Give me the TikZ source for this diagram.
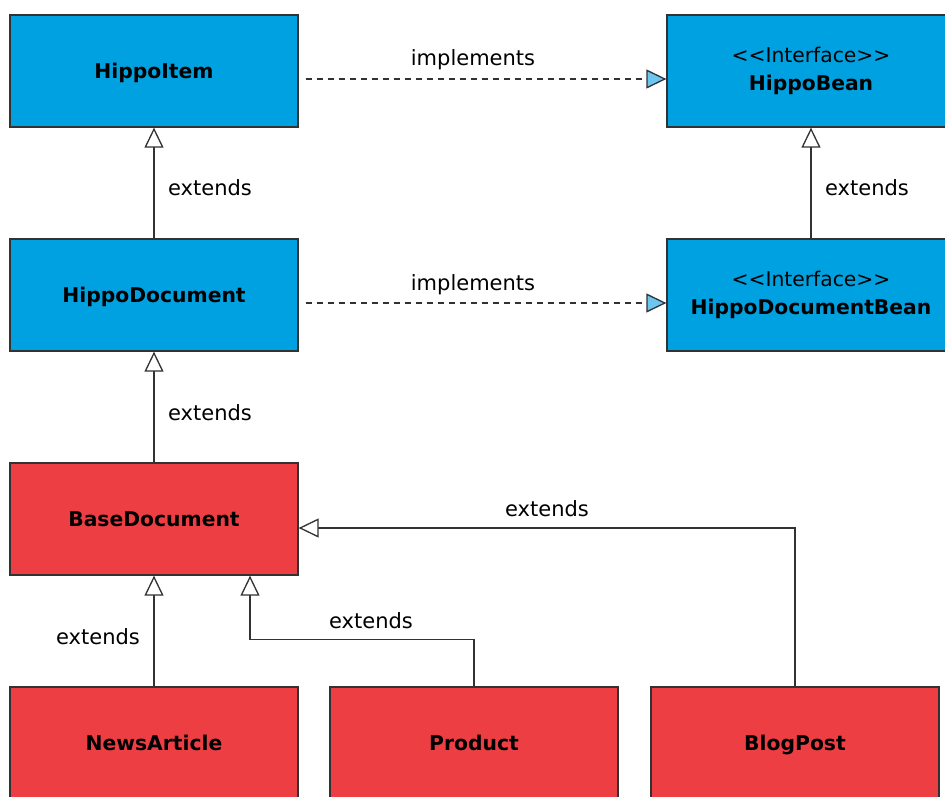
\documentclass[tikz,border=0pt]{standalone}
\usepackage{fontspec}
\setmainfont{DejaVu Sans}
\usetikzlibrary{arrows.meta,calc}
\definecolor{umlblue}{RGB}{0,161,224}
\definecolor{umlred}{RGB}{237,62,67}
\definecolor{tipblue}{RGB}{108,198,240}
\definecolor{edgegray}{RGB}{50,50,50}
\begin{document}
\begin{tikzpicture}[x=1pt,y=-1pt,
  every node/.style={font=\fontsize{21}{28}\selectfont},
  cls/.style={draw=edgegray,line width=1.3pt,minimum width=288pt,minimum height=112pt,
    inner sep=0pt,align=center,font=\fontsize{20.3}{28}\selectfont\bfseries},
  oneline/.style={text height=14.8pt,text depth=0pt},
  bluecls/.style={cls,fill=umlblue},
  redcls/.style={cls,fill=umlred,oneline},
  ext/.style={draw=edgegray,line width=1.4pt,-{Triangle[open,fill=white,length=20pt,width=19pt,line width=1.3pt]}},
  impl/.style={draw=edgegray,line width=1.4pt,dash pattern=on 6pt off 5pt,-{Triangle[fill=tipblue,length=20pt,width=19pt,line width=1.3pt]}},
  lbl/.style={inner sep=0pt}]
\clip (0,0) rectangle (945,796);
\fill[white] (0,0) rectangle (945,796);
\node[bluecls,oneline] (hi) at (154,71) {HippoItem};
\node[bluecls] (hb) at (811,71) {{\mdseries <{}<Interface>{}>}\\HippoBean};
\node[bluecls,oneline] (hd) at (154,295) {HippoDocument};
\node[bluecls] (hdb) at (811,295) {{\mdseries <{}<Interface>{}>}\\HippoDocumentBean};
\node[redcls] (bd) at (154,519) {BaseDocument};
\node[redcls] (na) at (154,743) {NewsArticle};
\node[redcls] (pr) at (474,743) {Product};
\node[redcls] (bp) at (795,743) {BlogPost};
% implements
\draw[impl] ($(hi.east)+(7,8)$) -- ($(hb.west)+(0,8)$);
\draw[impl] ($(hd.east)+(7,8)$) -- ($(hdb.west)+(0,8)$);
\node[lbl] (l1) at (473,60) {implements};
\node[lbl] (l2) at (473,285) {implements};
% extends
\draw[ext] (hd) -- (hi);
\draw[ext] (hdb) -- (hb);
\draw[ext] (bd) -- (hd);
\draw[ext] (na) -- (bd);
\draw[ext] (pr.north) |- ($(bd.south)+(96,64)$) -- ($(bd.south)+(96,0)$);
\draw[ext] (bp.north) |- ([yshift=-9pt]bd.east);
\node[lbl] (l3) at (210,188) {extends};
\node[lbl] (l4) at (867,188) {extends};
\node[lbl] (l5) at (210,413) {extends};
\node[lbl] (l6) at (98,637) {extends};
\node[lbl] (l7) at (371,621) {extends};
\node[lbl] (l8) at (547,509) {extends};
\end{tikzpicture}
\end{document}
